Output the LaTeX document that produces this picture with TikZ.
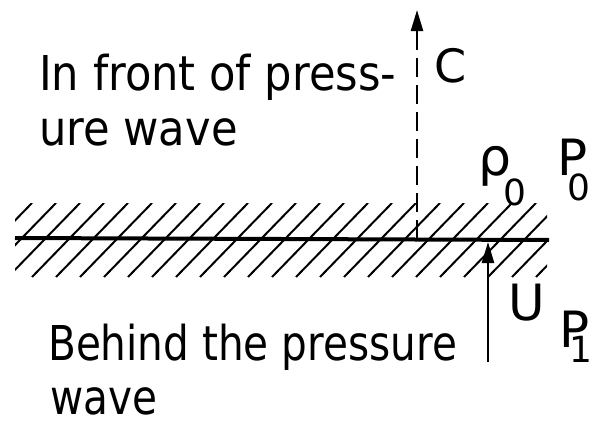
\documentclass[tikz,border=0pt]{standalone}
\usepackage{fontspec}
\setmainfont{DejaVu Sans}
\usetikzlibrary{arrows.meta}
\tikzset{
  txt/.style={inner sep=0pt, anchor=base west, text depth=0pt, font=\fontsize{48}{48}\selectfont},
  lbl/.style={inner sep=0pt, anchor=base west, text depth=0pt, font=\fontsize{#1}{#1}\selectfont},
  sub/.style={inner sep=0pt, anchor=base west, text depth=0pt, text height=25pt, font=\fontsize{36}{36}\selectfont},
  hatch/.style={line width=2pt},
  wave/.style={line width=4pt},
  cdash/.style={line width=2.4pt, dash pattern=on 19pt off 8pt},
  arr/.style={line width=2.4pt, -{Triangle[length=21pt,width=12pt]}},
}
\begin{document}
\begin{tikzpicture}[x=1pt,y=-1pt]
\useasboundingbox (0,0) rectangle (592,423);
% hatching
\begin{scope}
\clip (15,203) rectangle (547,277);
\foreach \k in {0,...,26} {
  \draw[hatch] ({32+24*\k},203) -- ({32+24*\k-72},277);
}
\end{scope}
% wave front line
\coordinate (wl) at (15,238);
\coordinate (wr) at (549,240);
\draw[wave] (wl) -- (wr);
% C arrow
\coordinate (cbase) at (417,238.5);
\coordinate (cmid) at (417,47);
\coordinate (ctip) at (417,10);
\draw[cdash] (cbase) -- (cmid);
\draw[arr] (cmid) -- (ctip);
% U arrow
\coordinate (ubase) at (488,362);
\coordinate (utip) at (488,242);
\draw[arr] (ubase) -- (utip);
% texts
\node[txt] (t1) at (39,90) {\scalebox{0.9}[1]{In front of press-}};
\node[txt] (t2) at (39,145) {\scalebox{0.9}[1]{ure wave}};
\node[txt] (t3) at (48,360) {\scalebox{0.845}[1]{Behind the pressure}};
\node[txt] (t4) at (50,414) {\scalebox{0.845}[1]{wave}};
% labels
\node[lbl=46] (C) at (434,82) {C};
\node[lbl=52] (rho) at (478,175) {ρ};
\node[sub] (rho0) at (503,205) {0};
\node[lbl=50] (P0) at (557,175) {P};
\node[sub] (P0s) at (567,200) {0};
\node[lbl=50] (U) at (508,320) {U};
\node[lbl=50] (P1) at (559,347) {P};
\node[sub] (P1s) at (569,362) {1};
\end{tikzpicture}
\end{document}
